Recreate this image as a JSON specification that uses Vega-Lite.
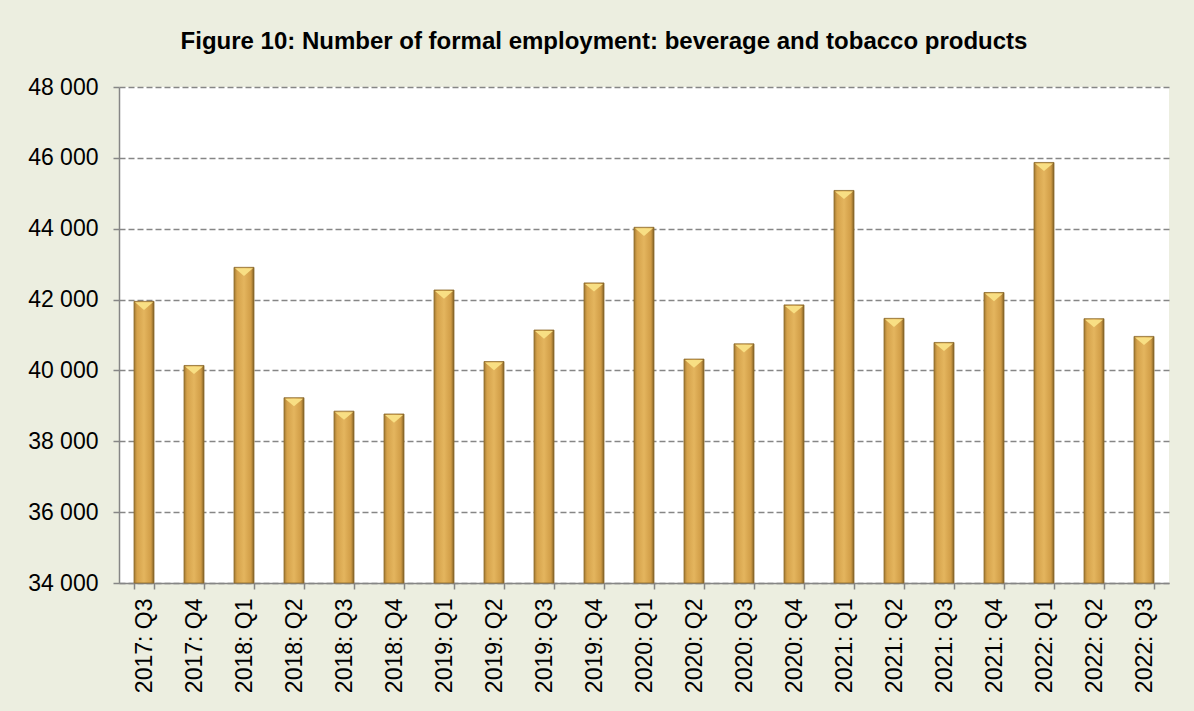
{
  "$schema": "https://vega.github.io/schema/vega-lite/v6.json",
  "width": 1050,
  "height": 496,
  "autosize": "none",
  "padding": {"left": 119, "top": 87, "right": 25, "bottom": 128},
  "background": "#ECEEE0",
  "title": {
    "text": "Figure 10: Number of formal employment: beverage and tobacco products",
    "font": "Liberation Sans",
    "fontSize": 24,
    "fontWeight": "bold",
    "color": "#000000",
    "anchor": "middle",
    "dx": -40,
    "offset": 22
  },
  "config": {
    "view": {"fill": "#FFFFFF", "stroke": null},
    "axis": {"labelFont": "Liberation Sans", "labelFontSize": 23, "labelColor": "#000000", "labelLimit": 400}
  },
  "data": {
    "values": [
      {"quarter": "2017: Q3", "employment": 41950},
      {"quarter": "2017: Q4", "employment": 40140},
      {"quarter": "2018: Q1", "employment": 42910},
      {"quarter": "2018: Q2", "employment": 39230},
      {"quarter": "2018: Q3", "employment": 38850},
      {"quarter": "2018: Q4", "employment": 38770},
      {"quarter": "2019: Q1", "employment": 42270},
      {"quarter": "2019: Q2", "employment": 40250},
      {"quarter": "2019: Q3", "employment": 41140},
      {"quarter": "2019: Q4", "employment": 42470},
      {"quarter": "2020: Q1", "employment": 44040},
      {"quarter": "2020: Q2", "employment": 40320},
      {"quarter": "2020: Q3", "employment": 40750},
      {"quarter": "2020: Q4", "employment": 41850},
      {"quarter": "2021: Q1", "employment": 45080},
      {"quarter": "2021: Q2", "employment": 41470},
      {"quarter": "2021: Q3", "employment": 40790},
      {"quarter": "2021: Q4", "employment": 42200},
      {"quarter": "2022: Q1", "employment": 45870},
      {"quarter": "2022: Q2", "employment": 41460},
      {"quarter": "2022: Q3", "employment": 40960}
    ]
  },
  "encoding": {
    "x": {
      "field": "quarter",
      "type": "ordinal",
      "sort": null,
      "scale": {"paddingInner": 0.6, "paddingOuter": 0.3},
      "axis": {
        "title": null,
        "labelAngle": -90,
        "labelAlign": "right",
        "labelBaseline": "middle",
        "labelPadding": 9,
        "labelLimit": 400,
        "tickBand": "extent",
        "tickSize": 6,
        "tickColor": "#868686",
        "tickWidth": 1.5,
        "domainColor": "#868686",
        "domainWidth": 1.5
      }
    },
    "y": {
      "field": "employment",
      "type": "quantitative",
      "scale": {"domain": [34000, 48000], "zero": false, "nice": false},
      "axis": {
        "title": null,
        "values": [34000, 36000, 38000, 40000, 42000, 44000, 46000, 48000],
        "labelExpr": "replace(format(datum.value, ','), ',', ' ')",
        "labelPadding": 15,
        "tickSize": 6,
        "tickColor": "#868686",
        "tickWidth": 1.5,
        "domainColor": "#868686",
        "domainWidth": 1.5,
        "grid": true,
        "gridColor": "#868686",
        "gridWidth": 1.5,
        "gridDash": [6, 3],
        "gridOpacity": 1
      }
    }
  },
  "layer": [
    {
      "mark": {
        "type": "bar",
        "color": {
          "gradient": "linear",
          "x1": 0, "x2": 1, "y1": 0, "y2": 0,
          "stops": [
            {"offset": 0, "color": "#A07832"},
            {"offset": 0.15, "color": "#D5A24B"},
            {"offset": 0.5, "color": "#E4B55E"},
            {"offset": 0.85, "color": "#D19D47"},
            {"offset": 1, "color": "#7E5E24"}
          ]
        },
        "stroke": "#8C6B2C",
        "strokeWidth": 0.8
      },
      "encoding": {
        "y2": {"datum": 34000}
      }
    },
    {
      "mark": {
        "type": "point",
        "shape": "M-1,0L1,0L0,0.85Z",
        "size": 324,
        "filled": true,
        "color": "#F8DF84",
        "opacity": 1,
        "yOffset": 1
      }
    }
  ]
}
